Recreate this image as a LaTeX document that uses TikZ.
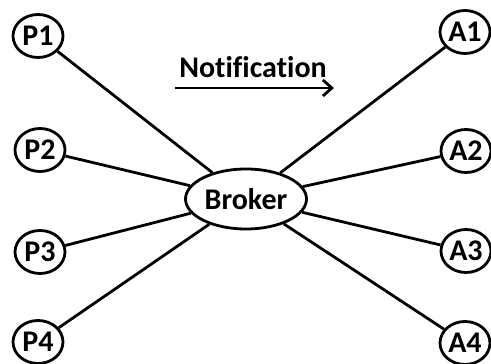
\documentclass[tikz,border=0pt]{standalone}
\usepackage{fontspec}
\setmainfont[Ligatures=NoCommon]{Carlito}
\usetikzlibrary{shapes.geometric,arrows.meta}
\begin{document}
\begin{tikzpicture}[x=1pt,y=1pt,
  lw/.style={line width=2.8pt},
  txt/.style={font=\fontsize{30}{32}\selectfont\bfseries},
  leaf/.style={ellipse,draw,lw,txt,inner sep=0pt,minimum width=50pt,minimum height=43pt},
  hub/.style={ellipse,draw,lw,txt,inner sep=0pt,minimum width=121pt,minimum height=60pt},
  link/.style={lw}]
\useasboundingbox (0,0) rectangle (491,364);
\node[hub] (B) at (246,165) {Broker};
\node[leaf] (P1) at (38,328) {P1};
\node[leaf] (P2) at (40,214) {P2};
\node[leaf] (P3) at (40,112) {P3};
\node[leaf] (P4) at (38,22) {P4};
\node[leaf] (A1) at (465,332) {A1};
\node[leaf] (A2) at (466,213) {A2};
\node[leaf] (A3) at (466,113) {A3};
\node[leaf] (A4) at (465,21) {A4};
\node[txt] (N) at (253,297) {Notification};
\coordinate (s) at (175,276);
\coordinate (e) at (334,276);
\draw[lw,-{Straight Barb[length=9pt,width=16pt,line width=2.8pt]}] (s) -- (e);
\foreach \n in {P1,P2,P3,P4,A1,A2,A3,A4}{\draw[link] (\n) -- (B);}
\end{tikzpicture}
\end{document}
